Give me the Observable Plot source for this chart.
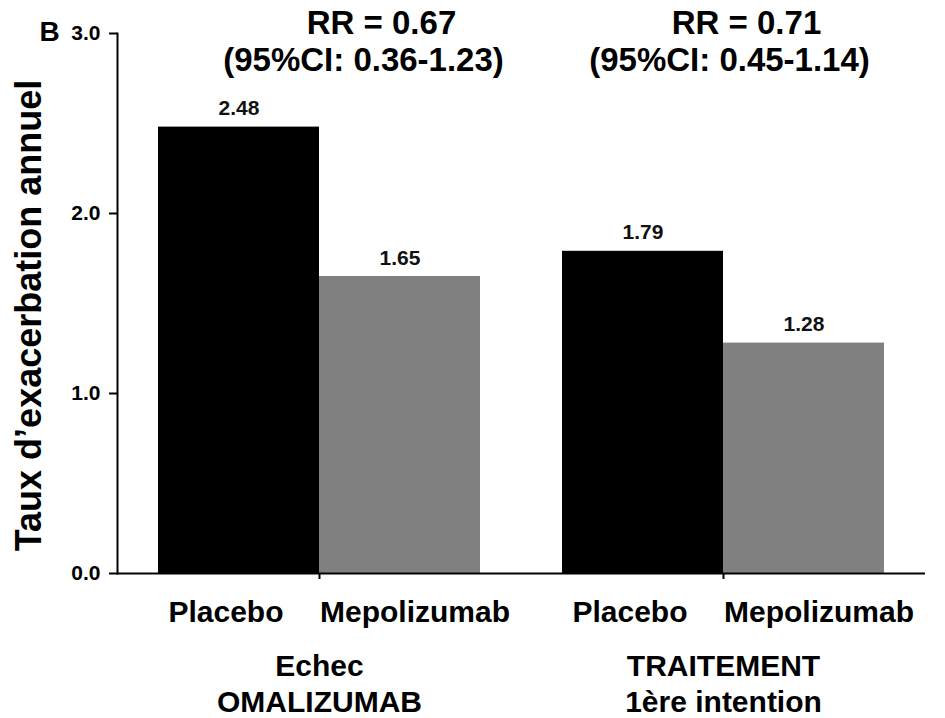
<!DOCTYPE html>
<html>
<head>
<meta charset="utf-8">
<script src="https://cdn.jsdelivr.net/npm/d3@7"></script>
<script src="https://cdn.jsdelivr.net/npm/@observablehq/plot@0.6"></script>
<style>
  html, body { margin: 0; padding: 0; background: #fff; }
</style>
</head>
<body>
<div id="chart"></div>
<script>
// Patient groups (facets), treatment arms and annual exacerbation rates
const groups = ["Echec\nOMALIZUMAB", "TRAITEMENT\n1ère intention"];
const treatments = ["Placebo", "Mepolizumab"];
const placeboRates = [2.48, 1.79];
const mepolizumabRates = [1.65, 1.28];
const rrLabels = ["RR = 0.67", "RR = 0.71"];
const ciLabels = ["(95%CI: 0.36-1.23)", "(95%CI: 0.45-1.14)"];
const yTicks = [0, 1, 2, 3];
const yTitle = "Taux d’exacerbation annuel";
const panelLetter = "B";

const rows = groups.flatMap((g, i) => [
  {group: g, treatment: treatments[0], rate: placeboRates[i]},
  {group: g, treatment: treatments[1], rate: mepolizumabRates[i]}
]);
const ratios = groups.map((g, i) => ({group: g, rr: rrLabels[i], ci: ciLabels[i]}));

const font = "'Liberation Sans', Arial, Helvetica, sans-serif";

// per-group horizontal nudges for the rate-ratio annotation
const rrShift = [62, 23];
const ciShift = [44, 6];

const chart = Plot.plot({
  width: 945,
  height: 718,
  marginLeft: 116,
  marginRight: 20,
  marginTop: 33,
  marginBottom: 145,
  style: {fontFamily: font, fontWeight: "bold", color: "#000", background: "#fff"},
  fx: {domain: groups, padding: 0, label: null},
  x: {domain: treatments, paddingInner: 0, paddingOuter: 0.25, label: null},
  y: {domain: [0, 3], label: null},
  color: {domain: treatments, range: ["#000000", "#808080"]},
  marks: [
    Plot.barY(rows, {fx: "group", x: "treatment", y: "rate", fill: "treatment"}),
    Plot.ruleY([0], {stroke: "#000", strokeWidth: 2}),
    Plot.frame({anchor: "left", facetAnchor: "left", stroke: "#000", strokeWidth: 2}),
    Plot.axisY({ticks: yTicks, tickFormat: ".1f", tickSize: 8, strokeWidth: 2, text: null, label: null}),
    // value labels of the y axis, drawn as text so that their size can be set
    Plot.text(yTicks, {y: d => d, text: d => d.toFixed(1), frameAnchor: "left", facetAnchor: "left", textAnchor: "end", lineAnchor: "middle", dx: -17, fontSize: 21}),
    // arm names under the bars, each nudged a little off the bar centre
    Plot.axisX({ticks: [treatments[0]], tickSize: 0, tickPadding: 27, fontSize: 30, dx: -13, label: null}),
    Plot.axisX({ticks: [treatments[1]], tickSize: 0, tickPadding: 27, fontSize: 30, dx: 15, label: null}),
    Plot.axisFx({anchor: "bottom", tickSize: 6, tickPadding: 72, fontSize: 30, lineHeight: 1.17, strokeWidth: 2, label: null}),
    Plot.text(rows, {fx: "group", x: "treatment", y: "rate", text: d => d.rate.toFixed(2), lineAnchor: "bottom", dy: -12, fontSize: 21, fill: "#111"}),
    ...ratios.map((r, i) => Plot.text([r], {fx: "group", text: "rr", frameAnchor: "top", lineAnchor: "bottom", dx: rrShift[i], dy: 0, fontSize: 33})),
    ...ratios.map((r, i) => Plot.text([r], {fx: "group", text: "ci", frameAnchor: "top", lineAnchor: "bottom", dx: ciShift[i], dy: 37, fontSize: 33})),
    Plot.text([yTitle], {frameAnchor: "left", facetAnchor: "left", rotate: -90, textAnchor: "middle", lineAnchor: "middle", dx: -88, dy: 12, fontSize: 36}),
    Plot.text([panelLetter], {frameAnchor: "top-left", facetAnchor: "left", textAnchor: "start", lineAnchor: "bottom", dx: -78, dy: 7, fontSize: 28})
  ]
});

document.getElementById("chart").append(chart);
</script>
</body>
</html>
